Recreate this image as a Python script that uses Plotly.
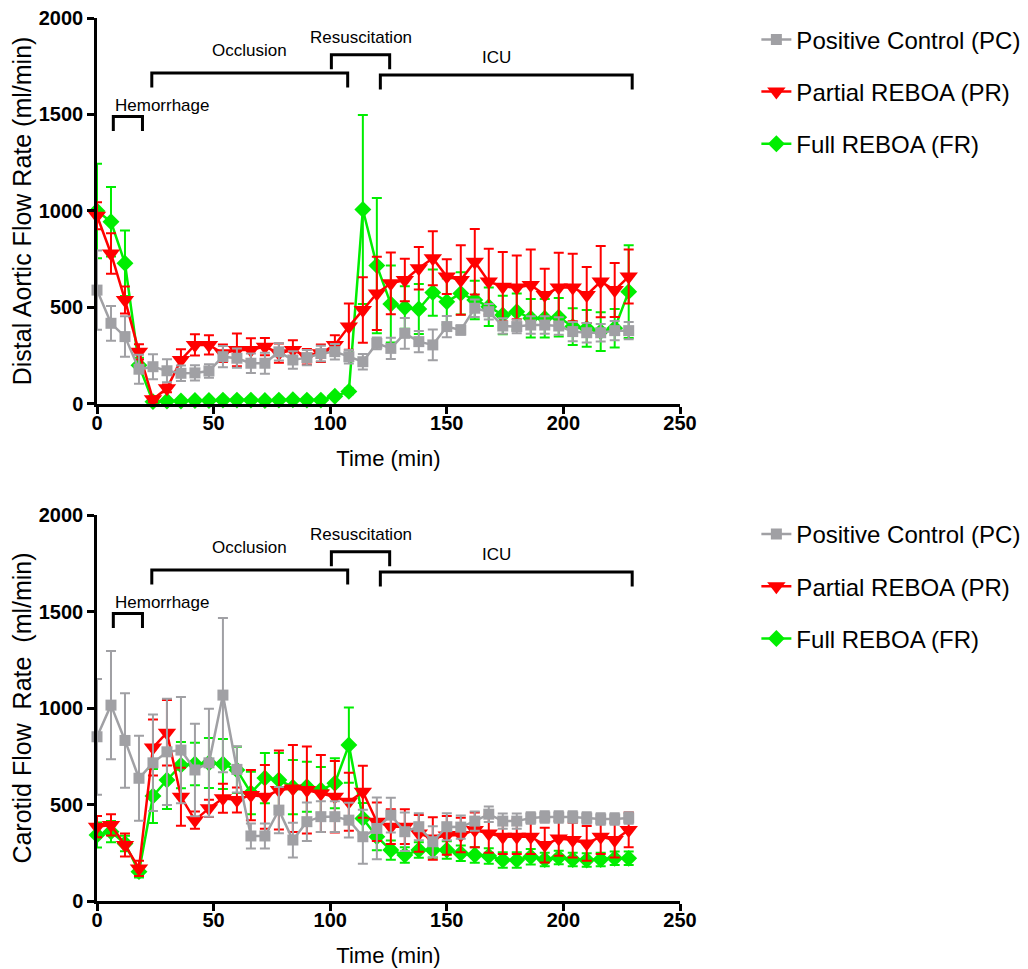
import plotly.graph_objects as go

# ---------------- data ----------------
time_min = [0, 6, 12, 18, 24, 30, 36, 42, 48, 54, 60, 66, 72, 78, 84, 90, 96, 102, 108,
            114, 120, 126, 132, 138, 144, 150, 156, 162, 168, 174, 180, 186, 192, 198,
            204, 210, 216, 222, 228]

series_names = ["Positive Control (PC)", "Partial REBOA (PR)", "Full REBOA (FR)"]

# Distal aortic flow rate (ml/min)
aortic_pc = [590, 418, 349, 180, 193, 172, 159, 161, 171, 245, 237, 211, 211, 270, 228, 240, 261, 271, 245,
             219, 314, 288, 366, 323, 306, 401, 383, 496, 478, 404, 401, 409, 409, 404, 375, 369, 369, 380, 380]
aortic_pc_err = [205, 90, 105, 75, 65, 60, 40, 40, 35, 55, 50, 50, 55, 45, 45, 40, 40, 40, 35,
                 40, 30, 55, 80, 55, 80, 55, 25, 45, 40, 40, 35, 45, 45, 45, 50, 50, 45, 50, 45]
aortic_pr = [975, 780, 539, 270, 24, 81, 228, 306, 306, 263, 280, 280, 297, 263, 280, 245, 263, 306, 401,
             487, 573, 625, 642, 703, 755, 660, 642, 737, 634, 608, 604, 616, 565, 604, 604, 565, 634, 590, 660]
aortic_pr_err = [70, 105, 70, 40, 15, 20, 55, 55, 50, 45, 85, 60, 45, 50, 50, 40, 45, 50, 120,
                 170, 190, 160, 110, 110, 140, 90, 180, 170, 170, 180, 165, 185, 135, 180, 175, 145, 185, 140, 140]
aortic_fr = [1000, 944, 729, 200, 12, 15, 15, 18, 18, 20, 20, 20, 18, 20, 22, 20, 20, 40, 65,
             1008, 717, 518, 500, 492, 577, 530, 573, 539, 504, 461, 478, 444, 444, 449, 401, 392, 375, 392, 582]
aortic_fr_err = [245, 180, 170, 40, 10, 8, 8, 8, 8, 8, 8, 8, 8, 8, 8, 8, 8, 10, 15,
                 490, 350, 200, 110, 130, 120, 120, 110, 100, 100, 100, 95, 100, 100, 100, 95, 95, 100, 100, 240]

# Carotid flow rate (ml/min)
carotid_pc = [851, 1015, 832, 636, 716, 773, 782, 679, 716, 1067, 682, 337, 337, 471, 316, 411, 437, 437, 419,
              333, 376, 445, 359, 385, 307, 385, 383, 414, 450, 414, 414, 430, 435, 435, 435, 430, 425, 425, 430]
carotid_pc_err = [300, 280, 245, 220, 250, 275, 275, 240, 280, 400, 120, 65, 65, 120, 90, 100, 80, 80, 90,
                  140, 160, 90, 100, 70, 80, 70, 60, 50, 40, 40, 40, 30, 30, 30, 30, 30, 30, 30, 30]
carotid_pr = [385, 394, 290, 169, 795, 872, 540, 419, 480, 532, 523, 549, 540, 575, 583, 575, 557, 540, 514,
              566, 411, 385, 385, 350, 324, 340, 342, 368, 350, 333, 333, 333, 290, 324, 316, 298, 333, 316, 368]
carotid_pr_err = [55, 55, 60, 40, 145, 170, 150, 45, 45, 75, 65, 130, 165, 205, 225, 225, 200, 185, 150,
                  135, 100, 90, 90, 95, 110, 100, 90, 90, 100, 90, 90, 90, 90, 90, 90, 90, 90, 90, 90]
carotid_fr = [342, 359, 298, 152, 544, 627, 704, 710, 715, 710, 679, 560, 637, 627, 590, 592, 575, 610, 808,
              428, 333, 264, 238, 264, 264, 264, 247, 238, 233, 212, 212, 229, 215, 225, 215, 212, 215, 221, 221]
carotid_fr_err = [65, 55, 40, 30, 140, 150, 120, 110, 130, 130, 120, 110, 130, 140, 140, 130, 120, 130, 195,
                  80, 70, 50, 40, 40, 40, 45, 40, 40, 40, 40, 40, 40, 35, 35, 35, 35, 35, 35, 35]

# experimental phases (min) and bracket levels (ml/min)
phase_names = ["Hemorrhage", "Occlusion", "Resuscitation", "ICU"]
phase_start = [7, 23.5, 100.5, 121.5]
phase_end = [19.5, 107.5, 125.5, 229.5]
phase_level = [1490, 1715, 1810, 1705]

x_ticks = [0, 50, 100, 150, 200, 250]
y_ticks = [0, 500, 1000, 1500, 2000]

# ---------------- styles ----------------
FONT = "Liberation Sans, Arial, sans-serif"
colors = ["#A0A0A4", "#FF0000", "#00EE00"]
symbols = ["square", "triangle-down", "diamond"]
msizes = [11, 16, 13]
ranks = [1, 2, 3]

fig = go.Figure()

panels = [
    ("x", "y", "legend", [aortic_pc, aortic_pr, aortic_fr], [aortic_pc_err, aortic_pr_err, aortic_fr_err]),
    ("x2", "y2", "legend2", [carotid_pc, carotid_pr, carotid_fr], [carotid_pc_err, carotid_pr_err, carotid_fr_err]),
]

for xa, ya, lg, vals, errs in panels:
    # draw FR first, then PR, then PC on top
    for i in [2, 1, 0]:
        fig.add_trace(go.Scatter(
            x=time_min, y=vals[i], name=series_names[i], mode="lines+markers",
            xaxis=xa, yaxis=ya, legend=lg, legendgroup=lg + str(i), legendrank=ranks[i],
            line=dict(color=colors[i], width=2.5),
            marker=dict(symbol=symbols[i], size=msizes[i], color=colors[i], line=dict(width=0)),
            error_y=dict(type="data", array=errs[i], visible=True, color=colors[i], thickness=2, width=5),
            cliponaxis=False,
        ))

# brackets and phase labels
shapes = []
annotations = []
label_pos = {
    "Hemorrhage": (6.9, 1549, "left"),
    "Occlusion": (65.6, 1834, "center"),
    "Resuscitation": (113.2, 1901, "center"),
    "ICU": (171.5, 1797, "center"),
}
for xa, ya in [("x", "y"), ("x2", "y2")]:
    for name, s, e, lv in zip(phase_names, phase_start, phase_end, phase_level):
        shapes.append(dict(
            type="path", xref=xa, yref=ya,
            path=f"M {s},{lv - 75} L {s},{lv} L {e},{lv} L {e},{lv - 75}",
            line=dict(color="black", width=3),
        ))
        lx, ly, anc = label_pos[name]
        annotations.append(dict(
            x=lx, y=ly, xref=xa, yref=ya, text=name, showarrow=False, xanchor=anc, yanchor="middle",
            font=dict(family=FONT, size=17, color="black"),
        ))

axis_common = dict(
    showline=True, linecolor="black", linewidth=2.5, ticks="outside", ticklen=7, tickwidth=2.5,
    tickcolor="black", showgrid=False, zeroline=False, mirror=False, automargin=False,
    ticklabeloverflow="allow",
    tickfont=dict(family=FONT, size=20, color="black", weight="bold"),
)

x_common = dict(axis_common, ticklabelstandoff=-8)

# the page body adds an 8 px offset, so the figure is sized to fit the window
fig.update_layout(
    width=1020, height=961,
    margin=dict(l=89, r=348, t=10, b=68, autoexpand=False),
    paper_bgcolor="white", plot_bgcolor="white",
    font=dict(family=FONT, color="black"),
    shapes=shapes, annotations=annotations,
    xaxis=dict(domain=[0, 1], anchor="y", range=[0, 250], tickvals=x_ticks,
               title=dict(text="Time (min)", font=dict(family=FONT, size=22), standoff=18), **x_common),
    yaxis=dict(domain=[0.5629, 1], anchor="x", range=[0, 2000], tickvals=y_ticks,
               title=dict(text="Distal Aortic Flow Rate (ml/min)", font=dict(family=FONT, size=25), standoff=6),
               **axis_common),
    xaxis2=dict(domain=[0, 1], anchor="y2", range=[0, 250], tickvals=x_ticks,
                title=dict(text="Time (min)", font=dict(family=FONT, size=22), standoff=18), **x_common),
    yaxis2=dict(domain=[0, 0.4371], anchor="x2", range=[0, 2000], tickvals=y_ticks,
                title=dict(text="Carotid Flow\u00a0 Rate\u00a0 (ml/min)", font=dict(family=FONT, size=25), standoff=6),
                **axis_common),
    legend=dict(x=1.131, y=1.0008, xanchor="left", yanchor="top", tracegroupgap=18,
                font=dict(family=FONT, size=24, color="black"), bgcolor="rgba(0,0,0,0)"),
    legend2=dict(x=1.131, y=0.4406, xanchor="left", yanchor="top", tracegroupgap=18,
                 font=dict(family=FONT, size=24, color="black"), bgcolor="rgba(0,0,0,0)"),
    showlegend=True,
)

fig.write_html("out.html")
